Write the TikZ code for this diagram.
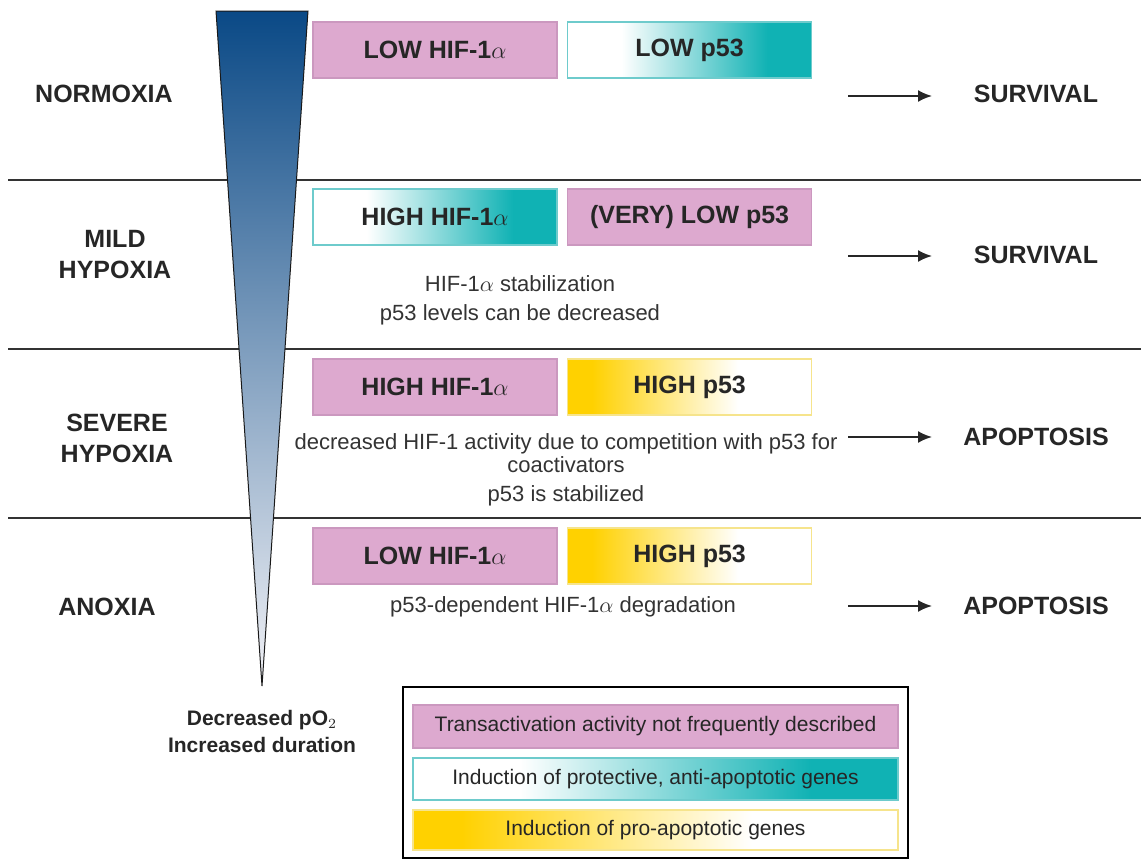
\documentclass[tikz,border=0pt]{standalone}
\usepackage{fontspec}
\setmainfont{Liberation Sans}
\usepackage{amsmath}
\usetikzlibrary{positioning, arrows, arrows.meta}

\definecolor{pinkfill}{HTML}{DDA9CF}
\definecolor{pinkline}{HTML}{CB98BF}
\definecolor{tealc}{HTML}{10B2B4}
\definecolor{tealline}{HTML}{6ECBCC}
\definecolor{yellowc}{HTML}{FFD100}
\definecolor{yellowline}{HTML}{F6E48C}
\definecolor{wedgetop}{HTML}{0A4986}
\definecolor{wedgebot}{HTML}{F2F2F6}

\pgfdeclarehorizontalshading{tealfade}{100bp}{color(0bp)=(white); color(36bp)=(white); color(66bp)=(tealc); color(100bp)=(tealc)}
\pgfdeclarehorizontalshading{yellowfade}{100bp}{color(0bp)=(yellowc); color(30bp)=(yellowc); color(60bp)=(white); color(100bp)=(white)}

\begin{document}
\begin{tikzpicture}[x=0.5pt, y=-0.5pt,
  state/.style={font=\bfseries\fontsize{12.5}{15.5}\selectfont, align=center, text=black!85},
  outcome/.style={font=\bfseries\fontsize{12.5}{15}\selectfont, text=black!85},
  level/.style={minimum width=122pt, minimum height=28pt, inner sep=0pt, line width=0.8pt,
    font=\bfseries\fontsize{12.5}{15}\selectfont, text=black!85},
  pinkbox/.style={level, fill=pinkfill, draw=pinkline},
  tealbox/.style={level, shading=tealfade, draw=tealline},
  yellowbox/.style={level, shading=yellowfade, draw=yellowline},
  desc/.style={font=\fontsize{11}{11.5}\selectfont, align=center, text=black!80},
  flow/.style={-{Latex[length=7pt,width=6pt]}, line width=0.9pt, black!85},
  sep/.style={line width=0.9pt, black!80}]
\useasboundingbox (0,0) rectangle (1141,862);

% separators
\draw[sep] (8,180) -- (1141,180);
\draw[sep] (8,349) -- (1141,349);
\draw[sep] (8,518) -- (1141,518);

% oxygen wedge
\shade[top color=wedgetop, bottom color=wedgebot, draw=black!90, line width=0.5pt]
  (216,11) -- (308,11) -- (262,686) -- cycle;

% conditions
\node[state] (nor) at (104,94) {NORMOXIA};
\node[state] (mild) at (115,255) {MILD\\HYPOXIA};
\node[state] (sev) at (117,438) {SEVERE\\HYPOXIA};
\node[state] (ano) at (107,607) {ANOXIA};

% HIF-1a / p53 levels
\node[pinkbox] (hif1) at (435,50) {LOW HIF-1$\alpha$};
\node[tealbox, right=4.5pt of hif1] (p1) {LOW p53};
\node[tealbox] (hif2) at (435,217) {HIGH HIF-1$\alpha$};
\node[pinkbox, right=4.5pt of hif2] (p2) {(VERY) LOW p53};
\node[pinkbox] (hif3) at (435,387) {HIGH HIF-1$\alpha$};
\node[yellowbox, right=4.5pt of hif3] (p3) {HIGH p53};
\node[pinkbox] (hif4) at (435,556) {LOW HIF-1$\alpha$};
\node[yellowbox, right=4.5pt of hif4] (p4) {HIGH p53};

\node[desc, font=\fontsize{11}{14.5}\selectfont] (d2) at (520,300) {HIF-1$\alpha$ stabilization\\p53 levels can be decreased};
\node[desc] (d3) at (566,470) {decreased HIF-1 activity due to competition with p53 for\\coactivators\\[3pt]p53 is stabilized};
\node[desc] (d4) at (563,607) {p53-dependent HIF-1$\alpha$ degradation};

% outcomes
\node[outcome] (o1) at (1036,94) {SURVIVAL};
\node[outcome] (o2) at (1036,255) {SURVIVAL};
\node[outcome] (o3) at (1036,437) {APOPTOSIS};
\node[outcome] (o4) at (1036,606) {APOPTOSIS};
\foreach \i/\y in {1/96,2/256,3/437,4/606}{
  \coordinate (s\i) at (848,\y);
  \coordinate (e\i) at (932,\y);
  \draw[flow] (s\i) -- (e\i);
}

\node[state, font=\bfseries\fontsize{10.5}{13.5}\selectfont] (po2) at (262,731) {Decreased pO$_2$\\Increased duration};

% key
\node[draw, line width=0.9pt, minimum width=252.5pt, minimum height=85.5pt] (key) at (655.5,772.5) {};
\node[pinkbox, minimum width=242.5pt, minimum height=21.5pt, font=\fontsize{10.5}{12}\selectfont] (k1) at (655.5,726.5) {Transactivation activity not frequently described};
\node[tealbox, minimum width=242.5pt, minimum height=21pt, font=\fontsize{10.5}{12}\selectfont] (k2) at (655.5,779) {Induction of protective, anti-apoptotic genes};
\node[yellowbox, minimum width=242.5pt, minimum height=20pt, font=\fontsize{10.5}{12}\selectfont] (k3) at (655.5,830) {Induction of pro-apoptotic genes};
\end{tikzpicture}
\end{document}
